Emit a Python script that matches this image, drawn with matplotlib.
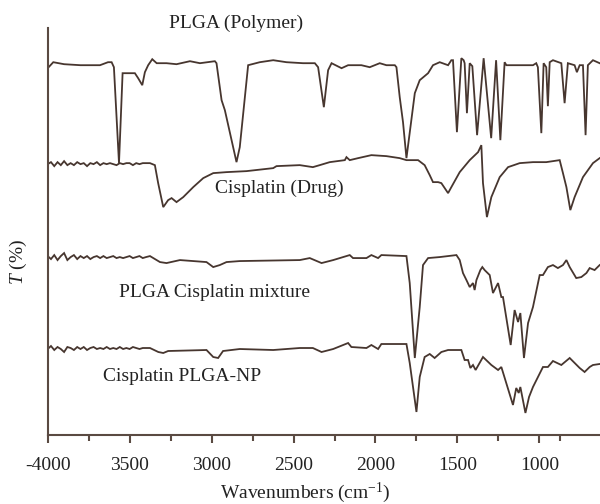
import matplotlib
matplotlib.use("Agg")
import matplotlib.pyplot as plt
from matplotlib.ticker import FixedLocator

# ---------------- data (wavenumber, cm-1 ; transmittance, arbitrary offset units) ----
noise_w = [4000, 3980, 3960, 3940, 3920, 3900, 3880, 3860, 3840, 3820, 3800,
           3780, 3760, 3740, 3720, 3700, 3680, 3660, 3640, 3620, 3600, 3580,
           3560, 3540, 3520, 3500, 3480, 3460, 3440, 3420, 3400]

plga_w = [4000, 3966, 3900, 3800, 3681, 3632, 3610, 3596, 3565, 3543, 3518, 3468,
          3448, 3423, 3407, 3387, 3362, 3335, 3275, 3214, 3132, 3071, 2980, 2970,
          2939, 2919, 2848, 2828, 2777, 2706, 2624, 2543, 2442, 2370, 2350, 2315,
          2289, 2268, 2207, 2167, 2086, 2035, 1974, 1933, 1882, 1872, 1852, 1832,
          1811, 1760, 1730, 1679, 1649, 1608, 1557, 1537, 1527, 1503, 1476, 1462,
          1456, 1442, 1425, 1409, 1380, 1340, 1294, 1264, 1238, 1212, 1201, 1039,
          1019, 1009, 988, 974, 958, 948, 937, 917, 866, 846, 826, 785, 771, 754,
          734, 718, 704, 673, 632]
plga_t = [367, 373, 371, 370, 370, 373, 373, 368, 272, 362, 362, 362, 357, 350,
          363, 370, 376, 372, 372, 371, 374, 372, 374, 372, 335, 325, 273, 288,
          370, 373, 375, 373, 372, 372, 368, 328, 365, 372, 367, 370, 370, 368,
          372, 370, 370, 368, 338, 313, 277, 342, 355, 362, 370, 373, 370, 375,
          375, 303, 377, 375, 372, 322, 372, 369, 300, 377, 297, 375, 295, 373,
          370, 370, 372, 368, 302, 372, 368, 329, 373, 375, 372, 332, 372, 370,
          363, 370, 370, 300, 370, 375, 372]

drug_noise_t = [271, 273, 269, 273, 270, 274, 270, 272, 270, 273, 271, 272, 269,
                272, 271, 273, 270, 272, 271, 272, 271, 270, 272, 271, 272, 272,
                270, 272, 271, 272, 272]
drug_w = [3376, 3346, 3326, 3295, 3265, 3244, 3214, 3173, 3112, 3051, 2990, 2909,
          2787, 2624, 2604, 2462, 2382, 2340, 2279, 2187, 2177, 2157, 2106, 2025,
          1933, 1852, 1811, 1740, 1700, 1669, 1649, 1618, 1598, 1557, 1537, 1486,
          1425, 1374, 1354, 1344, 1320, 1293, 1242, 1191, 1120, 1039, 958, 876,
          856, 835, 811, 785, 734, 673, 632]
drug_t = [272, 270, 252, 228, 235, 237, 233, 238, 248, 257, 262, 263, 264, 267,
          269, 270, 268, 270, 273, 275, 278, 275, 277, 280, 279, 277, 275, 275,
          270, 260, 253, 253, 252, 242, 248, 263, 275, 283, 290, 252, 218, 238,
          258, 268, 272, 273, 273, 275, 262, 248, 225, 238, 258, 272, 277]

mix_noise_t = [179, 176, 180, 175, 179, 182, 175, 178, 180, 176, 179, 177, 179,
               176, 178, 179, 177, 179, 177, 178, 179, 177, 178, 177, 178, 179,
               177, 178, 179, 177, 178]
mix_w = [3376, 3315, 3275, 3193, 3031, 2990, 2950, 2909, 2828, 2462, 2401, 2329,
         2258, 2157, 2137, 2055, 2025, 1984, 1964, 1811, 1791, 1760, 1730, 1710,
         1679, 1608, 1557, 1506, 1486, 1466, 1445, 1425, 1405, 1395, 1384, 1360,
         1348, 1334, 1303, 1283, 1252, 1232, 1222, 1175, 1151, 1130, 1116, 1094,
         1069, 1039, 998, 978, 948, 917, 887, 856, 835, 815, 775, 744, 713, 693,
         663, 632]
mix_t = [179, 173, 172, 175, 173, 168, 170, 173, 174, 175, 177, 172, 175, 180,
         177, 177, 180, 177, 180, 179, 152, 77, 128, 170, 177, 178, 179, 180, 175,
         162, 155, 148, 152, 145, 155, 165, 168, 165, 160, 142, 152, 138, 138, 90,
         125, 113, 122, 77, 112, 128, 160, 160, 168, 170, 167, 170, 175, 168, 157,
         158, 162, 167, 165, 170]

np_noise_t = [86, 89, 85, 88, 86, 83, 88, 87, 85, 88, 86, 88, 85, 87, 88, 86, 87,
              86, 88, 86, 87, 86, 88, 86, 87, 86, 88, 87, 86, 87, 87]
np_w = [3376, 3325, 3295, 3265, 3031, 2990, 2960, 2930, 2828, 2624, 2462, 2382,
        2329, 2258, 2167, 2147, 2055, 2025, 1984, 1964, 1811, 1791, 1750, 1730,
        1700, 1669, 1639, 1598, 1557, 1476, 1456, 1435, 1421, 1405, 1389, 1344,
        1293, 1252, 1232, 1161, 1141, 1126, 1116, 1085, 1063, 1039, 978, 948,
        917, 866, 815, 754, 724, 693, 673, 632]
np_t = [87, 83, 82, 84, 85, 78, 77, 84, 86, 85, 87, 87, 83, 86, 92, 88, 87, 90,
        86, 91, 91, 72, 23, 58, 78, 81, 77, 83, 85, 85, 75, 75, 67, 70, 65, 78,
        70, 65, 68, 30, 47, 42, 48, 22, 38, 48, 68, 68, 74, 70, 77, 67, 63, 68,
        70, 71]

labels = ["PLGA (Polymer)", "Cisplatin (Drug)", "PLGA Cisplatin mixture",
          "Cisplatin PLGA-NP"]
label_w = [2852, 2584, 2980, 3181]
label_t = [412, 247, 143, 58]

major_ticks = [4000, 3500, 3000, 2500, 2000, 1500, 1000]
major_labels = ["-4000", "3500", "3000", "2500", "2000", "1500", "1000"]
minor_ticks = [3750, 3250, 2750, 2250, 1750, 1250, 875]

# ---------------- drawing ----------------
plt.rcParams['font.family'] = ['Liberation Serif', 'DejaVu Serif']
plt.rcParams['mathtext.fontset'] = 'custom'
plt.rcParams['mathtext.rm'] = 'Liberation Serif'
plt.rcParams['mathtext.it'] = 'Liberation Serif:italic'
line_c = '#47362f'
axis_c = '#5a4a42'

fig = plt.figure(figsize=(6.0, 5.04), dpi=100)
ax = fig.add_axes([0.0795, 0.137, 0.9205, 0.807])

for xs, ys in [(plga_w, plga_t),
               (noise_w + drug_w, drug_noise_t + drug_t),
               (noise_w + mix_w, mix_noise_t + mix_t),
               (noise_w + np_w, np_noise_t + np_t)]:
    ax.plot(xs, ys, color=line_c, lw=1.3, solid_joinstyle='miter')

for s, xw, yt in zip(labels, label_w, label_t):
    ax.text(xw, yt, s, ha='center', va='center', fontsize=14, color='#222222',
            clip_on=False)

ax.set_xlim(4000, 630)
ax.set_ylim(0, 407)

for sp in ['top', 'right']:
    ax.spines[sp].set_visible(False)
for sp in ['left', 'bottom']:
    ax.spines[sp].set_color(axis_c)
    ax.spines[sp].set_linewidth(1.5)

ax.set_yticks([])
ax.xaxis.set_major_locator(FixedLocator(major_ticks))
ax.set_xticklabels(major_labels)
ax.xaxis.set_minor_locator(FixedLocator(minor_ticks))
ax.tick_params(axis='x', which='major', length=6, width=1.5, color=axis_c,
               pad=10, labelsize=14, labelcolor='#222222')
ax.tick_params(axis='x', which='minor', length=4, width=1.5, color=axis_c)

ax.set_xlabel("Wavenumbers (cm$^{\\mathregular{-1}}$)", fontsize=14,
              color='#222222')
ax.xaxis.set_label_coords(0.466, -0.112)
ax.set_ylabel("$T$ (%)", fontsize=14, color='#222222')
ax.yaxis.set_label_coords(-0.034, 0.425)

fig.savefig("out.png", dpi=100)
